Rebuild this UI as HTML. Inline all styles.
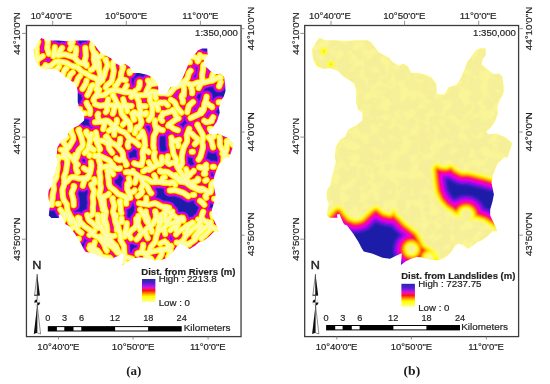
<!DOCTYPE html>
<html><head><meta charset="utf-8"><style>
html,body{margin:0;padding:0;background:#fff;width:550px;height:384px;overflow:hidden}
svg{display:block}
text{-webkit-font-smoothing:antialiased}
text{filter:grayscale(1)}
.lb{font-family:'Liberation Sans',sans-serif;font-size:8.6px;fill:#1e1e1e}
.lb2{font-family:'Liberation Sans',sans-serif;font-size:9.2px;fill:#1e1e1e;stroke:#1e1e1e;stroke-width:0.18px}
.lt{font-family:'Liberation Sans',sans-serif;font-size:8.6px;font-weight:bold;fill:#111}
.nn{font-family:'Liberation Sans',sans-serif;font-size:11.5px;fill:#111}
.cap{font-family:'Liberation Serif',serif;font-size:12px;font-weight:bold;fill:#111}
</style></head><body>
<svg width="550" height="384" viewBox="0 0 550 384">
<defs>
<linearGradient id="lg" x1="0" y1="0" x2="0" y2="1">
<stop offset="0" stop-color="#2a26b4"/><stop offset="0.15" stop-color="#4a20c8"/><stop offset="0.27" stop-color="#9018e0"/><stop offset="0.37" stop-color="#e010d8"/>
<stop offset="0.45" stop-color="#ff1060"/><stop offset="0.5" stop-color="#ff1010"/><stop offset="0.58" stop-color="#ff6000"/><stop offset="0.68" stop-color="#ffc000"/>
<stop offset="0.76" stop-color="#ffff00"/><stop offset="0.9" stop-color="#ffff50"/><stop offset="1" stop-color="#ffffa0"/>
</linearGradient>
<filter id="bl" x="-5%" y="-5%" width="110%" height="110%"><feGaussianBlur stdDeviation="0.45"/></filter>
<filter id="bl2" x="-5%" y="-5%" width="110%" height="110%"><feGaussianBlur stdDeviation="0.8"/></filter>
<clipPath id="clipL"><polygon points="41.5,38.1 47.0,40.5 57.9,40.5 67.3,41.3 78.3,40.5 89.2,40.5 92.3,42.0 95.4,45.9 100.1,52.2 106.4,55.9 111.1,58.3 114.2,62.2 120.4,66.1 125.1,63.7 129.7,66.9 132.9,73.1 139.2,73.1 147.0,74.7 153.3,77.8 157.9,84.0 158.7,94.3 165.7,95.0 170.4,87.2 178.2,85.3 182.6,78.0 185.9,70.4 189.2,61.7 193.5,56.2 197.9,50.2 202.2,48.6 207.2,48.6 207.7,55.1 204.4,59.5 203.3,64.9 207.7,68.2 211.0,71.5 215.3,74.2 220.8,73.7 224.1,76.9 225.2,85.3 225.5,91.3 223.7,96.8 221.3,100.3 219.0,108.1 219.7,112.8 216.7,122.1 212.0,128.3 208.1,131.5 209.7,134.6 218.2,133.8 227.6,137.7 233.7,143.2 233.0,147.1 230.7,153.3 229.1,158.3 226.1,157.3 219.1,164.3 214.4,176.1 213.2,183.1 215.6,194.9 214.2,201.9 211.9,209.7 211.9,215.9 215.7,223.7 218.9,231.6 214.2,231.6 209.5,236.3 203.3,240.9 198.6,242.5 195.4,245.6 189.7,249.1 185.4,245.9 180.2,243.8 177.1,245.9 172.9,252.2 167.7,257.4 160.4,260.5 153.6,260.3 148.1,259.0 142.7,257.6 138.1,257.2 132.7,259.0 127.2,261.7 122.6,265.3 123.5,253.5 117.2,256.3 111.7,259.0 104.2,258.0 93.7,253.8 85.4,251.8 83.4,248.6 80.2,242.3 75.0,234.1 68.7,225.7 65.7,224.6 63.2,219.3 61.2,214.2 58.6,214.8 59.2,218.1 51.4,218.1 48.8,215.5 49.5,208.3 50.7,205.1 48.8,199.8 48.2,194.6 48.8,190.1 52.1,185.5 52.7,180.3 54.4,174.5 57.5,162.0 56.5,157.8 57.5,147.3 61.7,140.1 66.9,137.0 70.0,129.7 78.4,125.5 84.1,120.5 84.1,113.2 79.6,109.5 77.7,102.2 77.7,91.3 75.9,84.0 70.4,80.3 65.0,76.7 59.5,71.2 52.2,68.5 44.9,69.4 39.5,66.7 35.8,62.1 34.5,58.3 33.7,49.8 38.4,41.2"/></clipPath>
<clipPath id="clipR"><polygon points="319.8,37.8 325.3,40.2 336.2,40.2 345.6,41.0 356.6,40.2 367.5,40.2 370.6,41.7 373.8,45.6 378.4,51.9 384.7,55.6 389.4,58.0 392.5,61.9 398.8,65.8 403.4,63.4 408.0,66.6 411.2,72.8 417.5,72.8 425.3,74.4 431.6,77.5 436.2,83.8 437.0,94.0 444.0,94.7 448.8,86.9 456.5,85.0 460.9,77.7 464.2,70.1 467.5,61.4 471.8,55.9 476.2,49.9 480.5,48.3 485.5,48.3 486.0,54.8 482.7,59.2 481.6,64.6 486.0,67.9 489.3,71.2 493.6,73.9 499.1,73.4 502.4,76.6 503.5,85.0 503.8,91.0 502.0,96.5 499.6,100.0 497.3,107.8 498.0,112.5 495.0,121.8 490.3,128.0 486.4,131.2 488.0,134.3 496.5,133.5 505.9,137.4 512.0,142.9 511.3,146.8 509.0,153.0 507.4,158.0 504.4,157.0 497.4,164.0 492.7,175.8 491.5,182.8 493.9,194.6 492.5,201.6 490.2,209.4 490.2,215.6 494.0,223.4 497.2,231.2 492.5,231.2 487.8,236.0 481.6,240.6 476.9,242.2 473.8,245.3 468.0,248.8 463.8,245.6 458.5,243.5 455.4,245.6 451.2,251.9 446.0,257.1 438.8,260.2 431.9,260.0 426.4,258.7 421.0,257.3 416.4,256.9 411.0,258.7 405.5,261.4 400.9,265.0 401.8,253.2 395.5,256.0 390.0,258.7 382.5,257.7 372.0,253.5 363.8,251.5 361.7,248.3 358.5,242.0 353.3,233.8 347.0,225.4 344.0,224.3 341.5,219.0 339.5,213.9 336.9,214.5 337.5,217.8 329.7,217.8 327.1,215.2 327.8,208.0 329.0,204.8 327.1,199.5 326.5,194.3 327.1,189.8 330.4,185.2 331.0,180.0 332.7,174.2 335.8,161.7 334.8,157.5 335.8,147.0 340.0,139.8 345.2,136.7 348.3,129.4 356.7,125.2 362.4,120.2 362.4,112.9 357.9,109.2 356.0,101.9 356.0,91.0 354.2,83.7 348.7,80.0 343.3,76.4 337.8,70.9 330.5,68.2 323.2,69.1 317.8,66.4 314.1,61.8 312.8,58.0 312.0,49.5 316.7,40.9"/></clipPath>
</defs>
<rect width="550" height="384" fill="#fff"/>
<!-- left map -->
<g clip-path="url(#clipL)">
<defs><path id="rv" d="M36.4 50.5 36.9 53.7 36.2 59.2 37.1 66.0 38.3 68.7 39.5 69.9 40.0 69.6 M47.3 39.6 47.9 42.3 47.3 48.3 48.9 53.8 M45.5 65.1 45.2 65.8 45.5 66.0 M54.8 47.2 54.0 54.0 53.4 56.3 M57.3 55.0 57.9 55.2 59.0 52.0 62.1 48.0 M70.4 43.3 72.7 42.1 M76.1 48.3 76.1 51.5 75.1 54.9 75.6 55.0 M85.3 47.9 85.9 55.8 84.7 61.3 85.7 64.2 86.5 64.2 M92.9 42.3 92.0 45.3 91.9 47.4 94.0 53.1 93.8 59.7 95.8 67.1 96.5 66.9 M39.1 70.5 39.1 70.1 45.2 67.2 50.9 65.7 54.9 62.2 56.7 61.4 58.6 61.3 65.1 62.5 66.9 63.1 71.1 65.7 77.5 67.4 82.1 71.8 86.9 73.9 90.5 76.4 96.1 78.5 99.5 82.9 100.0 82.4 M55.5 54.1 59.5 55.1 62.9 54.5 65.3 54.5 73.3 57.0 75.2 58.3 77.4 61.0 79.0 62.3 84.4 63.9 86.7 65.5 86.5 66.0 M51.9 74.2 51.3 73.5 52.2 72.2 57.2 69.0 59.1 66.6 59.2 66.0 M60.1 77.8 60.7 78.1 62.4 76.3 64.4 70.4 65.9 68.5 66.5 68.7 M67.4 80.6 68.6 78.6 70.3 74.6 72.8 72.4 M74.7 84.2 75.6 84.7 75.8 84.4 78.0 78.5 80.1 76.0 M82.5 88.9 86.1 83.0 86.5 80.6 M87.4 95.2 89.7 90.7 90.9 87.1 92.2 85.4 92.9 85.1 M93.8 100.6 93.4 100.2 93.9 98.5 96.8 94.5 99.3 89.7 M95.0 53.2 95.5 53.2 96.5 55.1 98.8 62.9 99.1 65.2 99.0 69.8 100.6 75.6 98.0 82.2 97.5 85.7 96.3 89.4 96.8 89.7 M105.9 59.6 105.4 59.8 107.4 63.6 107.6 65.5 105.3 70.9 104.3 75.3 102.3 79.4 102.0 80.3 102.3 80.6 M113.2 62.3 112.7 65.6 113.8 71.0 112.0 80.2 110.7 82.2 106.6 85.4 105.6 87.4 105.9 87.9 M122.3 66.9 123.3 67.0 123.2 67.6 121.3 72.7 120.6 78.6 115.7 86.4 115.0 86.0 M130.6 71.5 129.5 71.4 129.7 73.1 M126.7 85.5 123.5 91.1 124.2 91.5 M139.7 82.2 139.5 85.9 138.4 88.2 M135.1 91.0 131.3 96.7 131.5 97.0 M147.9 80.6 148.3 80.6 149.2 82.8 149.3 85.5 146.9 90.4 146.0 93.3 M95.0 97.0 98.5 95.5 104.1 95.0 108.5 91.5 110.8 90.5 112.1 90.4 118.5 90.3 124.9 92.3 130.3 92.2 135.9 95.1 137.2 95.4 146.5 95.0 152.0 91.7 154.6 91.9 158.2 93.0 165.0 93.3 M199.8 55.1 198.9 59.3 197.7 61.3 M190.6 70.8 188.9 72.9 187.4 78.1 185.8 80.0 180.2 84.8 174.6 87.6 170.4 92.7 168.1 93.8 166.9 93.8 M204.1 64.5 203.6 64.6 203.2 66.0 203.0 70.0 202.1 74.9 202.5 81.2 202.0 82.4 199.6 85.7 198.6 88.0 M193.0 102.0 188.9 105.8 187.2 112.2 M183.6 83.1 185.6 83.0 191.9 84.8 197.7 82.6 204.0 82.5 208.9 81.0 212.5 80.5 219.1 77.1 220.3 76.9 220.7 77.8 M212.8 74.3 210.9 80.9 M206.6 96.7 206.2 99.3 204.4 104.1 203.8 109.5 202.7 111.3 201.0 113.1 201.1 113.4 M220.7 82.1 219.1 86.3 M213.1 117.3 211.6 119.8 211.9 120.0 M170.9 99.7 173.7 101.5 175.1 102.9 177.0 107.6 181.3 112.6 M86.6 102.8 87.2 104.6 89.9 108.8 90.2 110.8 89.8 113.8 M91.6 134.2 90.0 137.3 90.2 140.6 M70.1 127.8 70.7 127.7 71.3 132.3 73.1 136.5 73.3 139.4 69.1 146.7 64.5 151.5 63.8 153.5 63.5 157.2 62.8 157.0 M79.2 129.6 78.4 130.0 78.5 130.5 80.8 135.5 82.8 142.8 82.9 144.8 82.1 146.7 78.5 150.6 77.2 156.6 76.0 158.9 75.6 158.8 M86.5 131.5 86.0 131.8 86.4 133.6 89.3 137.4 90.0 140.5 88.4 148.3 87.3 150.1 84.6 153.0 M95.9 132.3 96.9 137.7 96.9 142.5 100.2 149.1 100.2 149.3 99.3 149.7 M61.0 149.7 63.3 150.1 65.3 151.4 67.9 154.8 72.8 158.8 75.3 162.5 77.8 164.6 77.4 165.0 M95.0 104.1 100.0 105.9 106.8 104.6 111.6 105.3 116.0 105.3 121.7 106.6 127.4 105.4 131.3 106.2 131.5 105.9 M95.0 122.3 101.0 121.7 105.7 120.5 107.7 120.8 109.4 122.0 112.4 125.2 116.3 127.6 119.9 130.5 125.2 132.8 126.8 134.5 129.5 138.5 134.7 141.4 138.8 145.1 M113.2 95.0 112.7 95.4 114.7 98.3 116.9 102.9 119.7 106.0 120.7 107.8 121.7 114.1 129.9 123.8 129.6 124.2 M136.9 95.0 135.9 95.4 138.7 101.2 139.3 105.8 140.4 110.3 139.9 116.6 141.5 122.0 141.0 124.0 138.8 127.8 M149.7 95.0 150.2 95.0 149.9 100.3 152.3 105.7 152.4 108.4 151.9 115.6 148.8 120.1 M155.2 120.5 154.8 120.7 154.8 124.1 156.4 129.4 155.9 131.9 153.7 136.4 153.3 145.7 153.8 148.0 M154.7 152.4 154.0 156.0 154.1 158.2 156.8 163.5 157.2 164.8 157.0 165.0 M142.5 131.7 144.2 136.6 145.1 145.7 142.8 151.2 142.6 153.5 143.2 158.1 141.5 165.0 M105.9 136.9 106.6 136.3 107.1 136.8 109.6 140.8 111.2 142.5 116.7 145.5 122.1 151.7 122.8 153.7 123.4 158.8 126.6 164.1 126.7 164.7 126.0 165.0 M95.0 138.8 95.0 139.2 95.9 139.8 97.9 140.7 101.9 140.8 103.9 141.3 109.6 145.1 M95.0 155.2 94.8 156.2 101.1 156.5 108.3 160.0 110.3 161.5 112.4 165.6 113.2 165.0 M172.5 110.0 174.3 112.1 176.6 116.9 178.5 118.4 M190.7 118.0 198.8 114.2 200.2 112.6 201.3 109.9 201.7 110.0 M171.4 137.7 171.7 139.0 171.7 144.6 172.7 148.4 173.1 152.4 173.9 155.0 176.0 158.6 176.4 159.8 176.4 164.2 177.3 166.9 181.9 174.1 186.6 178.6 189.1 183.5 190.2 184.3 194.8 186.3 195.4 187.1 M189.2 128.8 186.8 135.4 187.2 139.9 186.9 142.0 183.8 147.3 181.9 155.1 181.7 157.8 182.2 162.9 180.8 166.2 M197.5 124.6 197.3 124.9 202.2 133.6 203.2 136.0 202.2 142.5 202.9 145.9 202.8 148.1 200.5 156.6 198.6 159.6 M209.0 137.1 208.5 137.4 210.6 139.6 211.6 141.5 213.0 147.4 M219.4 137.1 219.9 139.8 219.8 145.1 222.9 150.8 223.1 153.5 222.5 153.8 M226.7 141.2 227.3 141.4 226.5 149.8 223.7 155.9 223.5 161.7 223.1 163.0 220.3 167.9 218.8 172.5 M160.0 170.4 159.9 171.4 161.0 171.8 165.8 171.6 168.1 172.2 175.3 177.2 179.9 181.5 185.9 182.5 191.7 186.7 199.5 190.2 201.4 190.4 201.7 190.0 M58.7 156.8 59.4 157.0 57.2 161.8 57.7 167.1 56.7 173.2 56.5 176.4 56.1 178.0 53.6 182.5 53.3 184.1 54.0 189.1 52.7 194.9 52.5 198.9 51.8 202.6 51.9 204.9 M66.0 155.0 64.9 155.2 65.0 156.0 66.9 160.1 67.4 162.4 66.0 171.5 63.9 177.0 64.7 183.1 62.4 189.7 62.9 196.7 63.9 200.1 66.8 204.2 67.4 210.5 69.7 214.9 71.2 218.8 71.5 218.8 M75.1 155.0 75.9 155.1 75.3 159.0 75.9 163.5 75.9 167.8 76.3 169.7 77.7 172.1 77.3 172.3 M64.2 182.3 64.6 182.7 67.1 181.5 70.0 178.1 72.0 177.0 74.4 177.1 78.8 178.5 87.0 178.0 88.8 177.4 88.8 176.9 M73.6 186.0 74.3 186.2 74.2 187.1 72.0 192.0 71.7 193.4 73.4 199.7 73.7 205.2 M91.9 184.2 91.3 184.4 91.5 185.3 93.9 190.2 94.1 191.6 92.8 197.2 93.3 202.6 92.8 207.6 93.0 212.3 92.3 214.4 91.5 215.2 M89.7 155.0 89.4 155.9 M91.0 162.4 91.4 165.9 90.2 172.5 89.0 175.0 86.1 178.2 87.0 178.7 M98.8 155.0 98.8 159.8 100.8 166.5 99.4 172.1 100.4 177.6 100.1 183.0 100.8 187.3 100.7 188.8 99.2 193.5 99.2 195.1 101.3 200.7 101.8 204.5 103.3 209.4 102.8 209.7 M60.5 209.7 62.5 212.7 67.8 216.3 69.0 218.3 70.4 222.5 70.8 223.1 71.5 222.8 M79.4 218.4 79.4 223.5 79.1 225.0 M100.0 167.3 104.2 166.9 109.8 165.6 111.8 166.0 116.2 168.6 118.8 168.8 120.0 168.6 120.0 168.2 M132.8 170.9 132.4 171.6 133.4 172.6 140.5 177.2 142.4 178.0 147.2 179.0 152.2 182.1 158.9 181.8 163.5 182.7 168.2 182.7 170.0 183.3 M107.3 170.9 107.9 171.0 108.0 176.0 108.8 180.3 109.0 184.5 110.2 187.1 114.7 190.4 118.3 194.1 127.3 197.7 128.9 197.9 129.2 197.4 M127.4 183.9 127.2 189.0 129.6 194.1 130.3 197.8 M139.1 203.2 148.6 204.7 153.4 203.5 155.3 203.3 157.1 204.0 161.4 206.5 166.5 207.1 169.2 207.8 M103.7 196.5 103.1 196.7 103.1 197.5 103.8 201.3 104.2 206.7 106.0 212.1 104.8 219.2 106.6 224.9 107.3 230.0 M112.8 198.3 112.4 198.5 112.6 200.0 114.4 205.7 113.1 211.4 113.2 212.7 114.5 216.7 115.3 221.9 117.0 226.6 116.8 230.0 M120.4 201.0 119.5 201.2 120.5 205.4 120.7 210.5 121.4 213.1 M121.6 218.4 121.2 222.0 122.2 222.0 M138.3 216.0 138.5 218.4 137.8 223.4 140.3 229.0 140.5 229.8 140.1 230.0 M145.9 211.4 146.3 214.9 148.5 220.2 148.5 221.7 147.8 222.0 M155.1 211.4 155.5 211.4 155.7 212.3 156.1 217.7 159.1 221.7 158.7 222.0 M163.8 213.2 164.7 213.1 165.4 214.5 165.6 220.6 166.5 223.0 167.0 223.8 167.4 223.8 M175.9 175.0 175.8 175.8 177.7 177.6 183.3 179.5 187.3 182.3 191.9 184.6 195.9 187.9 198.4 188.5 202.4 188.7 207.5 191.6 210.6 192.3 M169.8 190.5 173.7 190.1 176.5 190.5 183.8 193.0 188.3 196.2 M200.1 200.9 202.8 203.0 204.3 204.8 M212.2 213.7 212.8 216.9 M165.0 209.6 165.4 209.1 171.5 213.3 176.1 217.8 182.0 218.8 183.5 219.7 183.2 220.6 M168.7 220.6 168.8 219.6 172.0 214.8 172.3 211.5 M175.9 229.7 175.6 229.3 176.0 228.3 178.2 224.4 179.7 220.4 181.4 217.8 M185.1 233.3 185.7 233.5 186.8 232.0 188.3 226.6 189.1 225.4 192.4 222.7 M194.2 237.0 198.8 231.2 200.5 225.6 201.5 226.0 M201.5 238.8 201.0 238.1 205.3 235.0 207.9 231.9 209.9 230.2 209.7 229.7 M176.6 242.5 182.1 243.8 186.6 243.9 186.9 244.0 186.9 245.0 M206.9 222.4 207.5 221.8 210.4 225.3 214.3 227.8 216.6 230.0 216.9 229.7 M69.3 215.0 76.2 224.2 77.2 228.5 78.0 230.4 81.4 233.0 M90.2 245.5 92.2 248.1 97.5 250.5 100.1 253.7 M78.0 217.7 78.4 219.4 79.3 220.8 84.8 226.6 90.2 230.3 94.0 235.1 99.5 238.1 104.7 244.7 104.4 245.1 M87.2 215.0 88.3 218.9 89.4 220.6 92.6 223.0 96.4 227.1 98.2 227.9 98.7 227.2 M97.3 215.0 97.9 214.9 98.3 216.2 98.0 220.9 98.3 222.8 101.6 227.4 103.6 232.4 105.9 235.8 107.8 241.8 109.3 243.6 110.0 243.6 M89.4 248.1 92.1 251.9 101.5 256.5 M89.5 235.0 90.9 233.4 94.5 231.0 94.4 230.8 M102.9 215.0 103.0 221.1 106.5 227.0 106.9 231.7 107.6 234.0 111.3 241.3 115.9 245.9 117.9 250.8 121.9 255.4 124.9 262.0 124.6 262.2 M115.8 215.0 116.1 215.1 115.4 219.2 115.9 221.0 117.9 224.8 119.0 230.2 120.5 234.4 120.6 240.1 124.0 246.2 124.2 252.3 125.0 257.9 M100.0 236.5 100.3 236.3 103.0 237.8 106.8 243.6 112.1 246.8 117.4 252.1 117.2 252.5 M126.7 223.3 126.4 228.0 125.2 232.4 124.8 236.6 124.0 236.5 M136.5 239.5 138.6 237.5 141.0 233.8 144.4 231.1 148.6 226.8 153.2 223.9 155.8 218.3 156.5 217.4 157.3 217.9 M136.2 219.0 136.5 224.1 135.8 226.6 134.6 228.0 131.1 230.7 130.1 232.2 M143.7 215.0 144.5 216.3 146.6 221.5 151.0 225.9 150.1 226.4 M160.8 215.0 160.3 215.1 161.4 218.8 161.6 221.0 158.6 227.2 157.9 231.6 156.3 235.9 155.2 241.9 151.5 246.1 150.8 247.2 149.2 252.6 146.1 256.5 M137.5 253.9 137.5 253.3 140.2 252.5 144.6 253.3 146.8 253.3 152.0 251.4 156.2 250.8 161.2 249.1 167.9 249.7 170.0 248.8 170.0 248.2 M163.7 229.3 164.3 229.3 165.2 234.1 M166.8 243.0 169.0 246.5 M160.0 229.3 160.4 229.9 162.9 228.8 167.1 224.7 173.4 223.0 176.9 221.0 181.3 219.4 183.0 218.2 182.9 217.9 M160.0 243.6 164.7 241.4 M176.0 234.4 178.9 231.2 183.9 228.3 187.2 225.3 193.2 222.9 M181.5 241.5 182.3 242.1 182.8 241.6 185.1 236.8 186.4 235.1 189.6 232.4 193.1 228.8 197.5 226.1 198.7 224.6 200.9 220.0 202.3 218.8 202.9 219.3 M189.3 244.3 188.9 243.8 189.4 243.3 193.1 241.2 194.8 239.9 197.9 234.3 201.0 231.7 204.5 228.0 209.7 224.8 210.8 223.0 210.8 222.2 M198.0 219.5 205.6 221.5 207.4 223.1 210.2 227.0 212.2 228.1 213.2 228.2 M160.0 250.8 165.4 249.3 170.6 246.1 171.0 245.9 171.4 246.5 M203.8 173.8 205.3 173.8 M220.2 102.2 218.7 102.3 M141.8 190.8 141.0 189.4 141.1 188.6 142.6 185.8 143.1 183.5 141.7 178.9 M168.2 125.8 168.9 124.4 176.7 119.0 M213.2 182.2 212.1 183.3 211.4 184.7 210.9 191.1 M193.8 170.8 193.5 171.5 191.5 172.8 189.5 175.3 186.9 177.1 M162.8 113.2 163.3 113.8 171.7 111.1 172.2 110.5 M151.2 193.2 149.7 191.5 146.9 185.8 145.6 184.7 144.1 184.2 M158.2 260.2 161.5 254.8 161.8 253.2 161.5 250.8 M61.8 140.2 65.7 145.3 66.5 148.4 M166.8 162.2 169.3 164.2 171.2 162.9 175.1 162.5 M183.8 95.2 184.1 88.9 182.7 84.3 M177.8 130.2 174.0 128.9 169.5 125.6 M161.8 103.2 160.4 102.4 157.7 104.0 154.6 103.9 153.1 104.4 M206.2 164.8 205.6 165.2 205.6 166.0 206.5 168.3 204.8 170.9 204.5 173.3 M191.8 151.8 192.8 151.8 M110.8 258.8 109.7 257.6 104.9 257.3 102.6 256.7 M149.2 169.8 156.0 165.5 M38.2 41.8 36.5 46.2 36.8 49.4 M79.2 109.2 80.2 109.2 M112.8 113.8 113.5 112.4 114.8 106.1 M209.8 128.8 210.8 128.8 M188.8 62.2 189.8 62.2 M98.2 113.8 97.5 115.1 98.8 120.6 M112.2 152.8 109.4 148.9 108.8 147.4 108.8 145.8 M143.2 244.8 143.3 246.3 142.4 249.4 142.3 251.8 M197.8 178.8 198.4 179.1 198.4 179.9 197.9 180.5 191.1 182.7 M157.2 83.2 150.1 84.3 M103.2 129.2 104.6 123.8 104.7 121.4 M147.8 238.2 146.4 235.3 145.4 231.5 M214.2 198.8 215.2 198.8 M128.2 146.8 127.7 145.2 127.8 143.6 128.4 142.2 129.9 140.3 M134.8 182.8 136.4 178.3 136.8 175.9 M132.2 113.8 134.1 112.2 134.9 112.3 138.6 115.3 M82.8 185.8 83.9 181.9 84.0 178.8 M194.8 136.8 192.0 133.8 189.3 132.2 M194.8 144.2 196.9 141.9 197.7 139.7 197.1 138.3 195.7 137.5 M179.2 139.8 175.5 141.0 172.3 141.1 M134.2 163.2 135.7 164.0 140.3 165.1 M120.2 138.8 119.9 142.7 118.4 145.5 M105.8 112.2 107.2 110.3 107.3 109.5 106.1 105.8 M132.2 258.8 126.1 257.1 M203.2 211.8 201.8 215.5 201.6 217.8 M161.8 157.2 161.8 162.0 161.4 163.6 160.0 164.3 158.4 164.3 M168.2 256.8 170.7 251.8 170.8 250.2 170.2 249.6 M116.8 119.8 117.1 121.3 116.7 122.9 114.6 125.3 M205.2 180.8 206.7 180.0 M212.8 166.8 213.8 166.8 M83.8 168.2 85.6 169.7 89.5 170.5 M137.8 196.2 141.0 193.9 142.2 191.9 M154.2 175.2 155.1 176.6 155.6 178.1 155.3 181.3 M123.2 99.2 124.0 102.3 123.5 105.5 M134.8 133.2 136.5 128.0 136.9 127.3 137.6 127.0 M162.2 120.8 160.7 118.9 160.5 118.1 161.1 116.7 162.7 114.9 M116.2 158.2 116.7 158.9 119.6 160.2 120.4 160.0 122.1 158.5 M114.2 134.8 114.4 130.8 115.7 127.9 M212.2 107.2 212.0 106.5 209.8 105.5 206.1 102.4 M204.2 120.8 206.2 122.2 207.0 122.2 211.6 121.1 M125.8 172.2 128.1 171.9 130.4 172.7 131.9 172.3 M192.2 93.2 192.3 90.9 191.1 87.1 191.0 85.5 M77.8 238.8 78.8 238.8 M199.2 167.2 200.8 167.7 204.7 167.0 M162.8 130.2 159.7 129.4 157.2 127.4 156.5 127.2 M57.8 203.8 58.8 203.8 M233.2 145.2 230.5 142.4 227.8 140.7 M206.2 197.8 205.3 196.5 205.5 195.7 208.1 192.8 M194.2 194.8 192.7 194.9 M143.2 171.2 144.0 171.2 145.7 169.5 148.0 169.1 M148.8 162.2 151.5 167.0 M151.8 259.8 150.8 258.5 148.6 257.8 147.6 256.6 M146.2 197.8 146.4 200.1 145.2 203.1 M106.8 250.8 105.6 248.7 105.0 246.3 M134.8 190.2 133.9 191.5 130.1 192.8 M102.8 54.2 101.3 56.1 98.3 57.2 M167.8 156.2 167.7 158.6 166.3 161.4 M130.8 238.2 127.9 233.5 126.1 231.9 M186.2 169.2 187.9 175.4 M134.2 119.8 133.2 117.6 133.1 114.4 M145.8 106.2 145.0 106.0 140.3 106.5 M146.2 112.8 146.0 114.3 145.2 114.6 140.8 112.9 M126.2 203.8 126.0 202.2 126.6 198.3 M122.8 124.8 126.0 121.2 M148.8 152.2 147.7 151.1 143.8 150.4 M167.8 105.2 164.9 102.5 162.6 102.7 M94.8 242.2 93.8 246.1 94.0 247.7 M66.8 137.2 63.2 140.4 M140.2 209.8 142.1 212.4 142.7 214.7 M128.8 178.2 129.7 182.1 129.2 184.5 128.5 184.8 M182.8 102.2 182.9 100.7 181.7 96.9 182.1 95.4 182.6 94.8 M42.8 56.2 40.0 57.9 36.9 60.4 M193.2 56.8 195.5 57.6 197.5 58.9 M205.8 57.2 203.4 57.1 M151.8 231.8 151.7 230.2 150.1 227.4 M94.2 179.2 95.0 182.4 93.9 183.5 92.4 183.8 M108.8 193.8 107.8 195.0 104.8 196.1 M127.2 111.2 126.9 106.5 M90.8 69.8 92.3 69.5 94.7 66.4 M214.2 134.2 213.7 136.6 211.2 138.5 M71.2 228.8 73.1 227.2 76.3 227.0 M170.2 230.2 173.1 227.4 176.1 226.4 M229.2 157.8 225.2 155.1 M113.2 174.2 109.8 169.9 108.2 170.1 M83.8 113.2 84.8 113.2 M108.8 130.8 111.4 129.0 113.8 129.0 M108.2 99.2 108.0 100.8 106.9 103.8 M164.8 177.2 163.2 177.7 162.7 178.3 162.2 179.8 162.2 181.4 M158.2 109.8 158.0 108.2 156.6 105.3 M178.2 146.2 178.5 145.5 178.2 143.9 177.0 141.9 M63.8 220.2 65.1 214.8 M114.8 235.8 112.4 236.2 110.1 235.6 M93.8 149.8 93.0 149.9 92.3 149.4 91.5 148.0 90.9 147.6 89.3 147.4 M130.2 129.8 130.5 128.2 130.1 125.0 M138.8 137.2 140.6 135.7 142.0 132.9 M155.8 98.2 154.8 96.1 155.5 93.0 M153.2 78.2 153.0 79.8 154.2 82.8 M70.2 49.2 72.2 45.8 M175.2 184.8 173.9 182.7 173.2 182.4 170.9 182.4 M125.8 80.2 121.9 79.2"/></defs>
<g fill="none" stroke-linecap="round" stroke-linejoin="round" filter="url(#bl)">
<rect x="26" y="25" width="216" height="313" fill="#1e1ea8"/>
<use href="#rv" stroke="#4a1ad0" stroke-width="13.2"/>
<use href="#rv" stroke="#8a10ec" stroke-width="12.0"/>
<use href="#rv" stroke="#d800f0" stroke-width="10.8"/>
<use href="#rv" stroke="#ff00d0" stroke-width="9.2"/>
<use href="#rv" stroke="#ff0070" stroke-width="8.3"/>
<use href="#rv" stroke="#ff1010" stroke-width="7.4"/>
<use href="#rv" stroke="#ff5800" stroke-width="6.7"/>
<use href="#rv" stroke="#ffc000" stroke-width="6.1"/>
<use href="#rv" stroke="#ffff00" stroke-width="5.4"/>
<use href="#rv" stroke="#ffff60" stroke-width="4.2"/>
<use href="#rv" stroke="#fffaa8" stroke-width="3.0"/>
</g>
</g>
<!-- right map -->
<g clip-path="url(#clipR)">
<defs><path id="ln" d="M314.1 61.8 317.8 66.4 323.2 69.1 330.5 68.2 337.8 70.9 343.3 76.4 354.2 83.7 356.0 91.0 356.0 101.9 357.9 109.2 362.4 112.9 362.4 120.2 356.7 125.2 348.3 129.4 345.2 136.7 340.0 139.8 335.8 147.0 334.8 157.5 335.8 161.7 332.7 174.2 331.0 180.0 330.4 185.2 327.1 189.8 326.5 194.3 327.1 199.5 329.0 204.8 327.8 208.0 327.3 213.6 333.0 207.0 336.4 205.6 339.5 205.0 342.7 206.9 346.5 212.0 350.4 216.5 355.5 218.4 360.5 217.1 368.2 209.5 372.0 206.3 375.8 205.0 378.4 205.6 384.7 210.7 389.8 212.0 391.5 208.9 394.7 207.3 397.9 212.9 407.6 222.6 414.0 227.4 418.9 231.5 422.1 237.1 425.3 243.5 435.0 250.0 438.2 254.8 440.1 259.6 446.0 257.1 451.2 251.9 455.4 245.6 458.5 243.5 463.8 245.6 468.0 248.8 473.8 245.3 476.9 242.2 481.6 240.6 487.8 236.0 492.5 231.2 495.3 231.2 490.4 227.4 483.3 222.7 476.3 220.4 466.0 221.0 455.2 216.9 450.5 213.3 443.5 208.6 437.6 201.6 433.5 192.2 431.9 180.5 430.8 168.7 432.7 164.4 436.9 162.0 440.7 164.5 445.8 165.2 449.6 163.3 453.5 163.9 457.3 167.7 462.4 170.3 468.7 170.3 484.0 174.1 492.6 176.5 492.7 175.8 497.4 164.0 504.4 157.0 507.4 158.0 509.0 153.0 511.3 146.8 512.0 142.9 505.9 137.4 496.5 133.5 488.0 134.3 486.4 131.2 490.3 128.0 495.0 121.8 498.0 112.5 497.3 107.8 499.6 100.0 502.0 96.5 503.8 91.0 503.5 85.0 502.4 76.6 499.1 73.4 493.6 73.9 489.3 71.2 486.0 67.9 481.6 64.6 482.7 59.2 486.0 54.8 485.5 48.3 480.5 48.3 476.2 49.9 471.8 55.9 467.5 61.4 464.2 70.1 460.9 77.7 456.5 85.0 448.8 86.9 444.0 94.7 437.0 94.0 436.2 83.8 431.6 77.5 425.3 74.4 417.5 72.8 411.2 72.8 408.0 66.6 403.4 63.4 398.8 65.8 392.5 61.9 389.4 58.0 384.7 55.6 378.4 51.9 373.8 45.6 370.6 41.7 367.5 40.2 356.6 40.2 345.6 41.0 336.2 40.2 325.3 40.2 319.8 37.8 316.7 40.9 312.0 49.5 312.8 58.0Z M471.1 214.0 470.3 212.1 468.9 210.7 467.0 209.9 465.0 209.9 463.1 210.7 461.7 212.1 460.9 214.0 460.9 216.0 461.7 217.9 463.1 219.3 465.0 220.1 467.0 220.1 468.9 219.3 470.3 217.9 471.1 216.0Z M415.3 248.5 414.8 247.1 413.7 246.0 412.3 245.5 410.9 245.5 409.5 246.0 408.4 247.1 407.9 248.5 407.9 249.9 408.4 251.3 409.5 252.4 410.9 252.9 412.3 252.9 413.7 252.4 414.8 251.3 415.3 249.9Z M432.6 257.4 432.2 256.2 431.3 255.3 430.1 254.9 428.9 254.9 427.7 255.3 426.8 256.2 426.4 257.4 426.4 258.6 426.8 259.8 427.7 260.7 428.9 261.1 430.1 261.1 431.3 260.7 432.2 259.8 432.6 258.6Z"/></defs>
<g stroke-linejoin="round" filter="url(#bl2)">
<rect x="304" y="25" width="216" height="313" fill="#1e1ea8"/>
<use href="#ln" fill="#3a1cc0" stroke="#3a1cc0" stroke-width="30.0"/>
<use href="#ln" fill="#6010d8" stroke="#6010d8" stroke-width="27.6"/>
<use href="#ln" fill="#9008e8" stroke="#9008e8" stroke-width="25.2"/>
<use href="#ln" fill="#c000f0" stroke="#c000f0" stroke-width="22.8"/>
<use href="#ln" fill="#f000f0" stroke="#f000f0" stroke-width="20.4"/>
<use href="#ln" fill="#ff00b0" stroke="#ff00b0" stroke-width="18.0"/>
<use href="#ln" fill="#ff0050" stroke="#ff0050" stroke-width="16.0"/>
<use href="#ln" fill="#ff0a00" stroke="#ff0a00" stroke-width="14.0"/>
<use href="#ln" fill="#ff4000" stroke="#ff4000" stroke-width="12.0"/>
<use href="#ln" fill="#ff9000" stroke="#ff9000" stroke-width="10.4"/>
<use href="#ln" fill="#ffd800" stroke="#ffd800" stroke-width="8.8"/>
<use href="#ln" fill="#ffff00" stroke="#ffff00" stroke-width="6.0"/>
<use href="#ln" fill="#ffff40" stroke="#ffff40" stroke-width="3.2"/>
<use href="#ln" fill="#fcf670" stroke="#fcf670" stroke-width="1.4"/>
<use href="#ln" fill="#f6ef99" stroke="none"/>
</g>
<defs><filter id="mot" x="0" y="0" width="100%" height="100%"><feTurbulence type="fractalNoise" baseFrequency="0.1" numOctaves="2" seed="5"/><feColorMatrix type="matrix" values="0 0 0 0 1  0 0 0 0 1  0 0 0 0 0.3  4.5 0 0 0 -2.0"/></filter><clipPath id="clipN"><use href="#ln"/></clipPath></defs>
<g clip-path="url(#clipN)"><rect x="304" y="25" width="216" height="313" filter="url(#mot)" opacity="0.45"/></g>
<defs><radialGradient id="sp"><stop offset="0" stop-color="#ffe000"/><stop offset="0.3" stop-color="#ffff20"/><stop offset="1" stop-color="#f8f27a" stop-opacity="0"/></radialGradient></defs>
<circle cx="323.8" cy="51.4" r="6" fill="url(#sp)"/>
<circle cx="330.8" cy="64.3" r="6" fill="url(#sp)"/>
<circle cx="316.5" cy="65.5" r="4.5" fill="url(#sp)"/>
</g>
<rect x="26.45" y="25.5" width="214.6" height="311.1" fill="none" stroke="#3c3c3c" stroke-width="1.3"/>
<rect x="304.7" y="25.5" width="213.9" height="311.1" fill="none" stroke="#3c3c3c" stroke-width="1.3"/>
<path d="M52.7 20.8V25.5 M126.3 20.8V25.5 M200.4 20.8V25.5 M58.5 336.5V339.5 M133.1 336.5V339.5 M208.1 336.5V339.5 M22.0 33.4H26.4 M22.0 137.1H26.4 M22.0 239.2H26.4 M241.0 28.7H244.5 M241.0 132.0H244.5 M241.0 235.2H244.5" stroke="#777" stroke-width="0.8" fill="none"/>
<path d="M331.0 20.8V25.5 M404.6 20.8V25.5 M478.7 20.8V25.5 M336.8 336.5V339.5 M411.4 336.5V339.5 M486.4 336.5V339.5 M300.3 33.4H304.7 M300.3 137.1H304.7 M300.3 239.2H304.7 M519.3 28.7H522.8 M519.3 132.0H522.8 M519.3 235.2H522.8" stroke="#777" stroke-width="0.8" fill="none"/>
<rect x="47.8" y="326.1" width="133.9" height="5.4" fill="#000"/>
<rect x="56.9" y="327.1" width="7.4" height="3.4" fill="#fff"/>
<rect x="73.5" y="327.1" width="7.8" height="3.4" fill="#fff"/>
<rect x="115.1" y="327.1" width="33.0" height="3.4" fill="#fff"/>
<text x="47.8" y="321.3" text-anchor="middle" class="lb2">0</text>
<text x="64.5" y="321.3" text-anchor="middle" class="lb2">3</text>
<text x="81.5" y="321.3" text-anchor="middle" class="lb2">6</text>
<text x="114.9" y="321.3" text-anchor="middle" class="lb2">12</text>
<text x="148.3" y="321.3" text-anchor="middle" class="lb2">18</text>
<text x="181.7" y="321.3" text-anchor="middle" class="lb2">24</text>
<rect x="326.1" y="325.0" width="133.9" height="5.4" fill="#000"/>
<rect x="335.2" y="326.0" width="7.4" height="3.4" fill="#fff"/>
<rect x="351.8" y="326.0" width="7.8" height="3.4" fill="#fff"/>
<rect x="393.4" y="326.0" width="33.0" height="3.4" fill="#fff"/>
<text x="326.1" y="320.6" text-anchor="middle" class="lb2">0</text>
<text x="342.8" y="320.6" text-anchor="middle" class="lb2">3</text>
<text x="359.8" y="320.6" text-anchor="middle" class="lb2">6</text>
<text x="393.2" y="320.6" text-anchor="middle" class="lb2">12</text>
<text x="426.6" y="320.6" text-anchor="middle" class="lb2">18</text>
<text x="460.0" y="320.6" text-anchor="middle" class="lb2">24</text>
<path d="M37.2 274.2 L34.6 295.0 L37.2 295.0Z" fill="#fff" stroke="#222" stroke-width="0.5"/>
<path d="M37.2 274.2 L39.8 295.0 L37.2 295.0Z" fill="#111"/>
<path d="M34.2 295.4H39.8" stroke="#222" stroke-width="0.8"/>
<path d="M37.2 295.5V300.0" stroke="#333" stroke-width="0.7"/>
<circle cx="37.2" cy="302.4" r="2.8" fill="#fff" stroke="#999" stroke-width="0.3"/>
<path d="M34.4 302.4 A2.8 2.8 0 0 1 37.2 299.6 V302.4Z M40.0 302.4 A2.8 2.8 0 0 1 37.2 305.2 V302.4Z" fill="#111"/>
<path d="M37.2 305.2 L33.8 334.0 L37.2 332.8Z" fill="#111"/>
<path d="M37.2 305.2 L40.6 334.0 L37.2 332.8Z" fill="#fff" stroke="#222" stroke-width="0.5"/>
<path d="M315.5 274.2 L312.9 295.0 L315.5 295.0Z" fill="#fff" stroke="#222" stroke-width="0.5"/>
<path d="M315.5 274.2 L318.1 295.0 L315.5 295.0Z" fill="#111"/>
<path d="M312.5 295.4H318.1" stroke="#222" stroke-width="0.8"/>
<path d="M315.5 295.5V300.0" stroke="#333" stroke-width="0.7"/>
<circle cx="315.5" cy="302.4" r="2.8" fill="#fff" stroke="#999" stroke-width="0.3"/>
<path d="M312.7 302.4 A2.8 2.8 0 0 1 315.5 299.6 V302.4Z M318.3 302.4 A2.8 2.8 0 0 1 315.5 305.2 V302.4Z" fill="#111"/>
<path d="M315.5 305.2 L312.1 334.0 L315.5 332.8Z" fill="#111"/>
<path d="M315.5 305.2 L318.9 334.0 L315.5 332.8Z" fill="#fff" stroke="#222" stroke-width="0.5"/>
<rect x="142.0" y="279.0" width="13.4" height="23" fill="url(#lg)"/>
<rect x="401.4" y="283.8" width="13.5" height="23" fill="url(#lg)"/>
<g fill="#1e1e1e"><text x="30.65" y="19.3" style="font-family:'Liberation Sans',sans-serif;font-size:9.0px;font-weight:normal" stroke="#1e1e1e" stroke-width="0.18" textLength="41.26" lengthAdjust="spacingAndGlyphs">10°40'0&quot;E</text>
<text x="105.05" y="19.3" style="font-family:'Liberation Sans',sans-serif;font-size:9.0px;font-weight:normal" stroke="#1e1e1e" stroke-width="0.18" textLength="42.22" lengthAdjust="spacingAndGlyphs">10°50'0&quot;E</text>
<text x="182.35" y="19.3" style="font-family:'Liberation Sans',sans-serif;font-size:9.0px;font-weight:normal" stroke="#1e1e1e" stroke-width="0.18" textLength="36.14" lengthAdjust="spacingAndGlyphs">11°0'0&quot;E</text>
<text x="308.95" y="19.3" style="font-family:'Liberation Sans',sans-serif;font-size:9.0px;font-weight:normal" stroke="#1e1e1e" stroke-width="0.18" textLength="41.8" lengthAdjust="spacingAndGlyphs">10°40'0&quot;E</text>
<text x="383.15" y="19.3" style="font-family:'Liberation Sans',sans-serif;font-size:9.0px;font-weight:normal" stroke="#1e1e1e" stroke-width="0.18" textLength="42.22" lengthAdjust="spacingAndGlyphs">10°50'0&quot;E</text>
<text x="459.85" y="19.3" style="font-family:'Liberation Sans',sans-serif;font-size:9.0px;font-weight:normal" stroke="#1e1e1e" stroke-width="0.18" textLength="36.72" lengthAdjust="spacingAndGlyphs">11°0'0&quot;E</text>
<text x="37.35" y="349.9" style="font-family:'Liberation Sans',sans-serif;font-size:9.0px;font-weight:normal" stroke="#1e1e1e" stroke-width="0.18" textLength="42.14" lengthAdjust="spacingAndGlyphs">10°40'0&quot;E</text>
<text x="111.85" y="349.9" style="font-family:'Liberation Sans',sans-serif;font-size:9.0px;font-weight:normal" stroke="#1e1e1e" stroke-width="0.18" textLength="42.68" lengthAdjust="spacingAndGlyphs">10°50'0&quot;E</text>
<text x="189.95" y="349.9" style="font-family:'Liberation Sans',sans-serif;font-size:9.0px;font-weight:normal" stroke="#1e1e1e" stroke-width="0.18" textLength="35.76" lengthAdjust="spacingAndGlyphs">11°0'0&quot;E</text>
<text x="315.75" y="349.8" style="font-family:'Liberation Sans',sans-serif;font-size:9.0px;font-weight:normal" stroke="#1e1e1e" stroke-width="0.18" textLength="41.68" lengthAdjust="spacingAndGlyphs">10°40'0&quot;E</text>
<text x="390.75" y="349.8" style="font-family:'Liberation Sans',sans-serif;font-size:9.0px;font-weight:normal" stroke="#1e1e1e" stroke-width="0.18" textLength="41.26" lengthAdjust="spacingAndGlyphs">10°50'0&quot;E</text>
<text x="468.15" y="349.8" style="font-family:'Liberation Sans',sans-serif;font-size:9.0px;font-weight:normal" stroke="#1e1e1e" stroke-width="0.18" textLength="35.8" lengthAdjust="spacingAndGlyphs">11°0'0&quot;E</text>
<text x="195.05" y="36.3" style="font-family:'Liberation Sans',sans-serif;font-size:9.3px;font-weight:normal" stroke="#1e1e1e" stroke-width="0.18" textLength="42.8" lengthAdjust="spacingAndGlyphs">1:350,000</text>
<text x="473.05" y="36.3" style="font-family:'Liberation Sans',sans-serif;font-size:9.3px;font-weight:normal" stroke="#1e1e1e" stroke-width="0.18" textLength="42.8" lengthAdjust="spacingAndGlyphs">1:350,000</text>
<text transform="translate(20.4,54.75) rotate(-90)" style="font-family:'Liberation Sans',sans-serif;font-size:9.0px;font-weight:normal" stroke="#1e1e1e" stroke-width="0.18" textLength="42.5" lengthAdjust="spacingAndGlyphs">44°10'0&quot;N</text>
<text transform="translate(20.4,154.15) rotate(-90)" style="font-family:'Liberation Sans',sans-serif;font-size:9.0px;font-weight:normal" stroke="#1e1e1e" stroke-width="0.18" textLength="36.0" lengthAdjust="spacingAndGlyphs">44°0'0&quot;N</text>
<text transform="translate(20.4,260.65) rotate(-90)" style="font-family:'Liberation Sans',sans-serif;font-size:9.0px;font-weight:normal" stroke="#1e1e1e" stroke-width="0.18" textLength="43.04" lengthAdjust="spacingAndGlyphs">43°50'0&quot;N</text>
<text transform="translate(253.75,50.15) rotate(-90)" style="font-family:'Liberation Sans',sans-serif;font-size:9.0px;font-weight:normal" stroke="#1e1e1e" stroke-width="0.18" textLength="43.34" lengthAdjust="spacingAndGlyphs">44°10'0&quot;N</text>
<text transform="translate(253.75,151.45) rotate(-90)" style="font-family:'Liberation Sans',sans-serif;font-size:9.0px;font-weight:normal" stroke="#1e1e1e" stroke-width="0.18" textLength="39.3" lengthAdjust="spacingAndGlyphs">44°0'0&quot;N</text>
<text transform="translate(253.75,256.1) rotate(-90)" style="font-family:'Liberation Sans',sans-serif;font-size:9.0px;font-weight:normal" stroke="#1e1e1e" stroke-width="0.18" textLength="43.63" lengthAdjust="spacingAndGlyphs">43°50'0&quot;N</text>
<text transform="translate(298.7,54.75) rotate(-90)" style="font-family:'Liberation Sans',sans-serif;font-size:9.0px;font-weight:normal" stroke="#1e1e1e" stroke-width="0.18" textLength="42.5" lengthAdjust="spacingAndGlyphs">44°10'0&quot;N</text>
<text transform="translate(298.7,154.15) rotate(-90)" style="font-family:'Liberation Sans',sans-serif;font-size:9.0px;font-weight:normal" stroke="#1e1e1e" stroke-width="0.18" textLength="36.0" lengthAdjust="spacingAndGlyphs">44°0'0&quot;N</text>
<text transform="translate(298.7,260.65) rotate(-90)" style="font-family:'Liberation Sans',sans-serif;font-size:9.0px;font-weight:normal" stroke="#1e1e1e" stroke-width="0.18" textLength="43.04" lengthAdjust="spacingAndGlyphs">43°50'0&quot;N</text>
<text transform="translate(532.05,50.15) rotate(-90)" style="font-family:'Liberation Sans',sans-serif;font-size:9.0px;font-weight:normal" stroke="#1e1e1e" stroke-width="0.18" textLength="43.34" lengthAdjust="spacingAndGlyphs">44°10'0&quot;N</text>
<text transform="translate(532.05,151.45) rotate(-90)" style="font-family:'Liberation Sans',sans-serif;font-size:9.0px;font-weight:normal" stroke="#1e1e1e" stroke-width="0.18" textLength="39.3" lengthAdjust="spacingAndGlyphs">44°0'0&quot;N</text>
<text transform="translate(532.05,256.1) rotate(-90)" style="font-family:'Liberation Sans',sans-serif;font-size:9.0px;font-weight:normal" stroke="#1e1e1e" stroke-width="0.18" textLength="43.63" lengthAdjust="spacingAndGlyphs">43°50'0&quot;N</text>
<text x="141.25" y="274.6" style="font-family:'Liberation Sans',sans-serif;font-size:9.2px;font-weight:bold" stroke="#1e1e1e" stroke-width="0.18" textLength="94.3" lengthAdjust="spacingAndGlyphs">Dist. from Rivers (m)</text>
<text x="158.65" y="281.9" style="font-family:'Liberation Sans',sans-serif;font-size:8.6px;font-weight:normal" stroke="#1e1e1e" stroke-width="0.18" textLength="58.14" lengthAdjust="spacingAndGlyphs">High : 2213.8</text>
<text x="158.65" y="305.7" style="font-family:'Liberation Sans',sans-serif;font-size:8.8px;font-weight:normal" stroke="#1e1e1e" stroke-width="0.18" textLength="31.3" lengthAdjust="spacingAndGlyphs">Low : 0</text>
<text x="401.15" y="279.1" style="font-family:'Liberation Sans',sans-serif;font-size:9.2px;font-weight:bold" stroke="#1e1e1e" stroke-width="0.18" textLength="114.26" lengthAdjust="spacingAndGlyphs">Dist. from Landslides (m)</text>
<text x="418.25" y="286.9" style="font-family:'Liberation Sans',sans-serif;font-size:8.6px;font-weight:normal" stroke="#1e1e1e" stroke-width="0.18" textLength="63.26" lengthAdjust="spacingAndGlyphs">High : 7237.75</text>
<text x="418.15" y="310.6" style="font-family:'Liberation Sans',sans-serif;font-size:8.8px;font-weight:normal" stroke="#1e1e1e" stroke-width="0.18" textLength="31.34" lengthAdjust="spacingAndGlyphs">Low : 0</text>
<text x="183.65" y="330.5" style="font-family:'Liberation Sans',sans-serif;font-size:9.2px;font-weight:normal" stroke="#1e1e1e" stroke-width="0.18" textLength="46.76" lengthAdjust="spacingAndGlyphs">Kilometers</text>
<text x="461.25" y="330.3" style="font-family:'Liberation Sans',sans-serif;font-size:9.2px;font-weight:normal" stroke="#1e1e1e" stroke-width="0.18" textLength="46.84" lengthAdjust="spacingAndGlyphs">Kilometers</text>
<text x="32.35" y="269.2" style="font-family:'Liberation Sans',sans-serif;font-size:11.8px;font-weight:normal" stroke="#1e1e1e" stroke-width="0.4" textLength="9.18" lengthAdjust="spacingAndGlyphs">N</text>
<text x="310.65" y="269.2" style="font-family:'Liberation Sans',sans-serif;font-size:11.8px;font-weight:normal" stroke="#1e1e1e" stroke-width="0.4" textLength="9.18" lengthAdjust="spacingAndGlyphs">N</text>
<text x="126.15" y="374.95" style="font-family:'Liberation Serif',serif;font-size:12.6px;font-weight:bold" stroke="#1e1e1e" stroke-width="0.0" textLength="15.18" lengthAdjust="spacingAndGlyphs">(a)</text>
<text x="403.55" y="374.95" style="font-family:'Liberation Serif',serif;font-size:12.6px;font-weight:bold" stroke="#1e1e1e" stroke-width="0.0" textLength="16.68" lengthAdjust="spacingAndGlyphs">(b)</text></g>
</svg>
</body></html>
